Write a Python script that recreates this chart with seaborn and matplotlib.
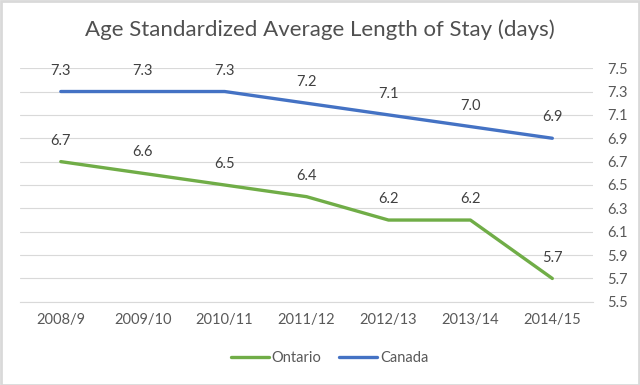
import matplotlib
matplotlib.use("Agg")
import matplotlib.pyplot as plt
import seaborn as sns
import pandas as pd
import numpy as np

years = ["2008/9", "2009/10", "2010/11", "2011/12", "2012/13", "2013/14", "2014/15"]
ontario = [6.7, 6.6, 6.5, 6.4, 6.2, 6.2, 5.7]
canada = [7.3, 7.3, 7.3, 7.2, 7.1, 7.0, 6.9]
yticks = [5.5, 5.7, 5.9, 6.1, 6.3, 6.5, 6.7, 6.9, 7.1, 7.3, 7.5]

sns.set_theme(style="white")
plt.rcParams['font.family'] = ['Lato', 'DejaVu Sans']

df = pd.DataFrame({
    "Year": years * 2,
    "Value": ontario + canada,
    "Region": ["Ontario"] * len(years) + ["Canada"] * len(years),
})
palette = {"Ontario": "#70AD47", "Canada": "#4472C4"}

fig = plt.figure(figsize=(6.4, 3.85), dpi=100)
ax = fig.add_axes([0.031, 0.216, 0.896, 0.607])
sns.lineplot(data=df, x="Year", y="Value", hue="Region", palette=palette,
             linewidth=2.4, ax=ax, sort=False)

ax.set_xlim(-0.5, len(years) - 0.5)
ax.set_ylim(5.5, 7.5)
ax.set_yticks(yticks)
ax.set_yticklabels([f"{v:.1f}" for v in yticks])
ax.yaxis.tick_right()
ax.grid(axis="y", color="#d9d9d9", linewidth=0.8)
ax.set_axisbelow(True)
for s in ["top", "left", "right"]:
    ax.spines[s].set_visible(False)
ax.spines["bottom"].set_color("#d9d9d9")
ax.spines["bottom"].set_linewidth(0.8)
ax.tick_params(axis="y", length=0, labelsize=10.5, labelcolor="#595959", pad=10)
ax.tick_params(axis="x", which="major", length=0, labelsize=10.5, labelcolor="#595959", pad=8)
ax.set_xlabel("")
ax.set_ylabel("")

for i, (o, c) in enumerate(zip(ontario, canada)):
    ax.annotate(f"{o:.1f}", (i, o), xytext=(0, 10), textcoords="offset points",
                ha="center", va="bottom", fontsize=10.5, color="#404040")
    ax.annotate(f"{c:.1f}", (i, c), xytext=(0, 10), textcoords="offset points",
                ha="center", va="bottom", fontsize=10.5, color="#404040")

fig.text(0.5, 0.922, "Age Standardized Average Length of Stay (days)",
         ha="center", va="center", fontsize=16, color="#505050")

handles, labels = ax.get_legend_handles_labels()
ax.get_legend().remove()
leg = fig.legend(handles, labels, loc="center", bbox_to_anchor=(0.515, 0.07), ncol=2,
                 frameon=False, fontsize=10.5, handlelength=2.6, columnspacing=1.2,
                 handletextpad=0.2)
for t in leg.get_texts():
    t.set_color("#595959")

fig.patches.append(plt.Rectangle((0.001, 0.001), 0.998, 0.997, transform=fig.transFigure,
                                 fill=False, edgecolor="#d9d9d9", linewidth=2))
fig.savefig("out.png", dpi=100)
